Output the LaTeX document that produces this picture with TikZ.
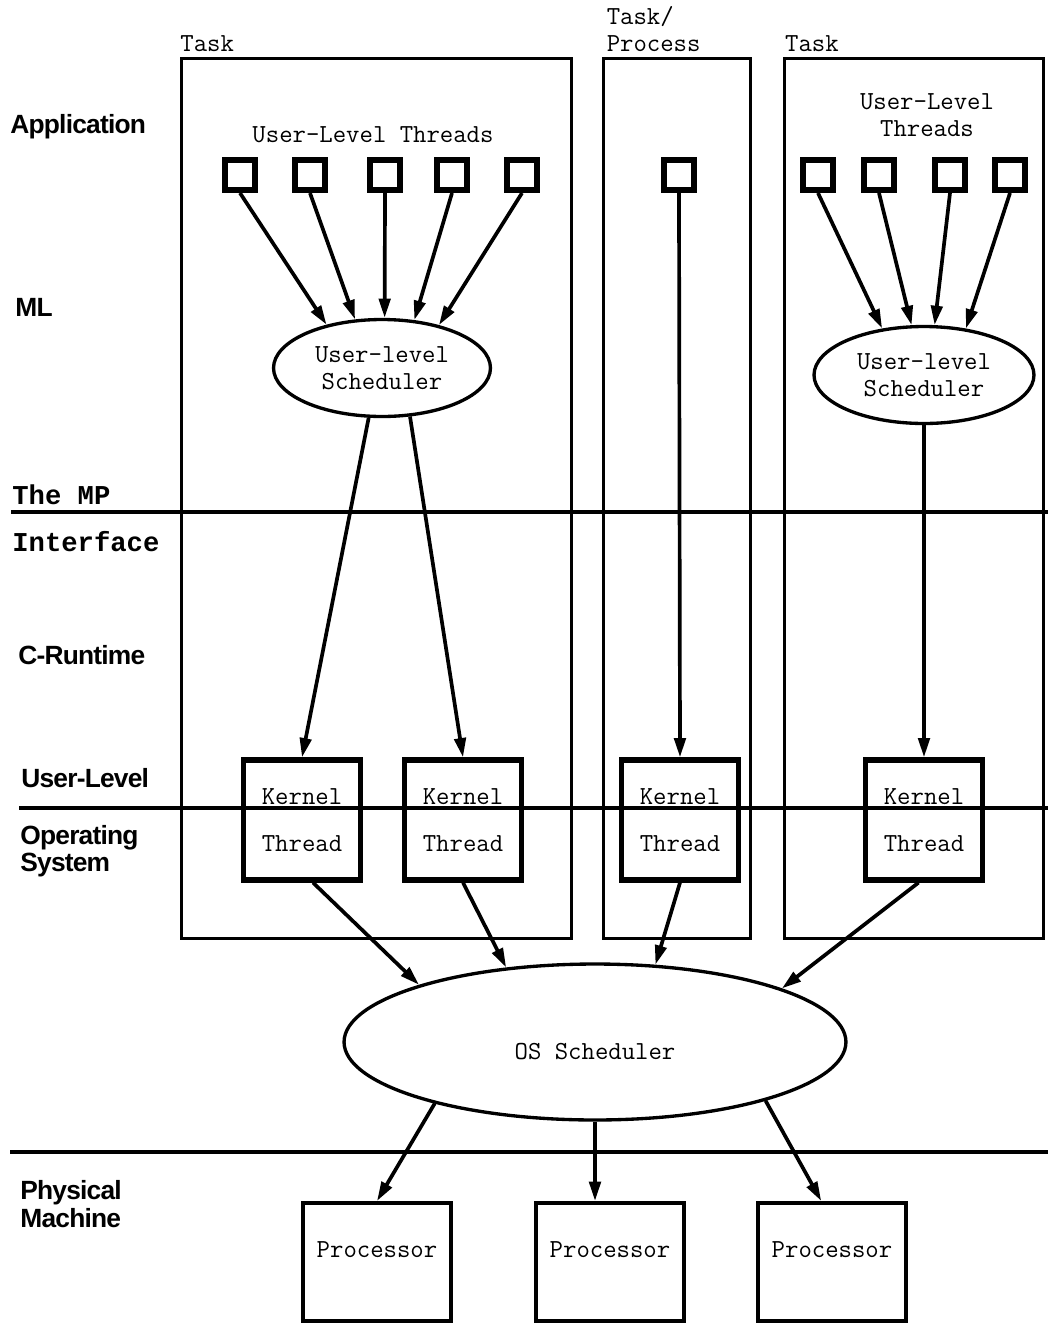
\documentclass[tikz,border=0pt]{standalone}
\usepackage{fontspec}
\newfontfamily\monobold{Liberation Mono}
\newfontfamily\layerfont[LetterSpace=-3]{Liberation Sans}
\usetikzlibrary{shapes,arrows.meta,positioning}
\tikzset{
  mono/.style = {font=\ttfamily\fontsize{14.8}{15.5}\selectfont, inner sep=0pt},
  lyr/.style = {font=\layerfont\bfseries\fontsize{15}{15.5}\selectfont,
    anchor=west, align=left, inner sep=0pt},% layer name
  lyr_mp/.style = {font=\monobold\bfseries\fontsize{15.5}{16}\selectfont,
    anchor=west, inner sep=0pt},% MP interface
  task/.style = {draw, rectangle, line width=1.7pt, minimum width=#1,
    minimum height=17.6cm},% task frame
  ult/.style = {draw, rectangle, line width=3.4pt, minimum size=0.6cm,
    inner sep=0pt},% user-level thread
  sched/.style = {mono, draw, ellipse, line width=1.9pt, align=center,
    minimum width=4.34cm, minimum height=1.94cm},% scheduler
  kthr/.style = {mono, draw, rectangle, line width=3pt, align=center,
    minimum width=2.34cm, minimum height=2.4cm},% kernel thread
  cpu/.style = {draw, rectangle, line width=2.3pt,
    minimum width=2.96cm, minimum height=2.36cm}% processor
}
\begin{document}
\begin{tikzpicture}[x=0.02cm, y=-0.02cm, >={Triangle[length=11pt,width=6.5pt]},
  arr/.style={->, line width=2.1pt}]
\useasboundingbox (0,0) rectangle (1048,1326);

% layers
\draw[line width=2.6pt] (11,512) -- (1048,512);
\draw[line width=1.9pt] (19,808) -- (1048,808);
\draw[line width=2.4pt] (10,1152) -- (1048,1152);
\node[lyr] (l_app) at (10,127) {Application};
\node[lyr] (l_ml) at (15,307) {ML};
\node[lyr_mp] (l_mp) at (12,495) {The MP};
\node[lyr_mp] (l_iface) at (12,542) {Interface};
\node[lyr] (l_crt) at (18,655) {C-Runtime};
\node[lyr] (l_ul) at (21,778) {User-Level};
\node[lyr] (l_os) at (20,851) {Operating\\System};
\node[lyr] (l_phys) at (20,1204) {Physical\\Machine};

% tasks
\node[task=7.8cm] (task1) at (376.5,498.5) {};
\node[task=2.94cm] (task2) at (677,498.5) {};
\node[task=5.18cm] (task3) at (914,498.5) {};
\node[mono, anchor=south west] (t1_lbl) at ([yshift=3pt]task1.north west) {Task};
\node[mono, anchor=south west, align=left] (t2_lbl) at ([xshift=2.5pt,yshift=3pt]task2.north west) {Task/\\Process};
\node[mono, anchor=south west] (t3_lbl) at ([xshift=1pt,yshift=3pt]task3.north west) {Task};

% user-level threads
\node[mono] (ult1_lbl) at (373,135) {User-Level Threads};
\node[ult] (u1) at (240,175) {};
\node[ult] (u2) at (310,175) {};
\node[ult] (u3) at (385,175) {};
\node[ult] (u4) at (452,175) {};
\node[ult] (u5) at (522,175) {};
\node[ult] (p1) at (679,175) {};
\node[mono, align=center] (ult3_lbl) at (927,115) {User-Level\\Threads};
\node[ult] (v1) at (818,175) {};
\node[ult] (v2) at (879,175) {};
\node[ult] (v3) at (950,175) {};
\node[ult] (v4) at (1010,175) {};

% schedulers
\node[sched] (us1) at (382,368) {User-level\\Scheduler};
\node[sched, minimum width=4.4cm] (us3) at (924,375) {User-level\\Scheduler};
\node[sched, minimum width=10.04cm, minimum height=3.12cm,
  label={[mono, name=os_lbl, yshift=-5.6pt]center:OS Scheduler}] (os) at (595,1042) {};

% kernel threads
\node[kthr] (k1) at (302,820) {Kernel\\[11pt]Thread};
\node[kthr] (k2) at (463,820) {Kernel\\[11pt]Thread};
\node[kthr] (k3) at (680,820) {Kernel\\[11pt]Thread};
\node[kthr] (k4) at (924,820) {Kernel\\[11pt]Thread};

% processors
\node[cpu, label={[mono, name=cpu1_lbl, yshift=6.8pt]center:Processor}] (cpu1) at (377,1262) {};
\node[cpu, label={[mono, name=cpu2_lbl, yshift=6.8pt]center:Processor}] (cpu2) at (610,1262) {};
\node[cpu, label={[mono, name=cpu3_lbl, yshift=6.8pt]center:Processor}] (cpu3) at (832,1262) {};

% arrows
\draw[arr] (u1.south) -- (us1.142);
\draw[arr] (u2.south) -- (us1.119);
\draw[arr] (u3.south) -- (us1.87);
\draw[arr] (u4.south) -- (us1.56);
\draw[arr] (u5.south) -- (us1.37);
\draw[arr] (v1.south) -- (us3.132);
\draw[arr] (v2.south) -- (us3.104);
\draw[arr] (v3.south) -- (us3.78);
\draw[arr] (v4.south) -- (us3.48);
\draw[arr] (us1.255) -- (k1.north);
\draw[arr] (us1.300) -- (k2.north);
\draw[arr] (p1.south) -- (k3.north);
\draw[arr] (us3.south) -- (k4.north);
\draw[arr] (k1.280) -- (os.162);
\draw[arr] (k2.south) -- (os.140);
\draw[arr] (k3.south) -- (os.52);
\draw[arr] (k4.265) -- (os.16);
\draw[arr] (os.201) -- (cpu1.north);
\draw[arr] (os.south) -- (os.south |- cpu2.north);
\draw[arr] (os.341) -- (cpu3.100);
\end{tikzpicture}
\end{document}
